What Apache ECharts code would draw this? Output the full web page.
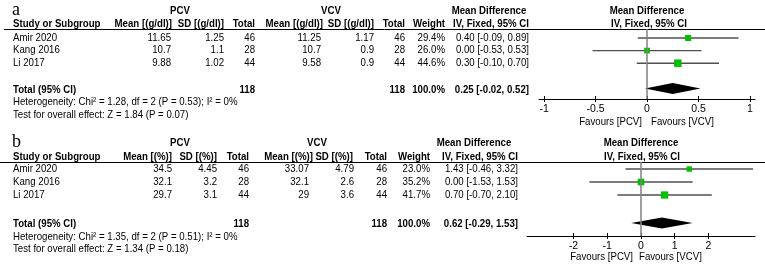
<!DOCTYPE html>
<html>
<head>
<meta charset="utf-8">
<script src="https://cdn.jsdelivr.net/npm/echarts@6/dist/echarts.min.js"></script>
<style>
  html, body { margin: 0; padding: 0; background: #fff; }
  #chart { width: 765px; height: 268px; }
</style>
</head>
<body>
<div id="chart"></div>
<script>
const FONT = '"Liberation Sans", Arial, sans-serif';
const FS = 10.4;
const SX = 0.93; // the source text is a little narrow

const studies = ['Amir 2020', 'Kang 2016', 'Li 2017'];

// a: haemoglobin, g/dl
const hbPcvMean = [11.65, 10.7, 9.88];
const hbPcvSd = [1.25, 1.1, 1.02];
const hbPcvTotal = [46, 28, 44];
const hbVcvMean = [11.25, 10.7, 9.58];
const hbVcvSd = [1.17, 0.9, 0.9];
const hbVcvTotal = [46, 28, 44];
const hbWeight = [29.4, 26.0, 44.6];
const hbMd = [0.40, 0.00, 0.30];
const hbLow = [-0.09, -0.53, -0.10];
const hbHigh = [0.89, 0.53, 0.70];
const hbPooled = [0.25, -0.02, 0.52]; // estimate, low, high
const hbTotals = [118, 118];
const hbHet = 'Heterogeneity: Chi² = 1.28, df = 2 (P = 0.53); I² = 0%';
const hbTest = 'Test for overall effect: Z = 1.84 (P = 0.07)';
const hbTicks = [-1, -0.5, 0, 0.5, 1];

// b: haematocrit, %
const htPcvMean = [34.5, 32.1, 29.7];
const htPcvSd = [4.45, 3.2, 3.1];
const htPcvTotal = [46, 28, 44];
const htVcvMean = [33.07, 32.1, 29];
const htVcvSd = [4.79, 2.6, 3.6];
const htVcvTotal = [46, 28, 44];
const htWeight = [23.0, 35.2, 41.7];
const htMd = [1.43, 0.00, 0.70];
const htLow = [-0.46, -1.53, -0.70];
const htHigh = [3.32, 1.53, 2.10];
const htPooled = [0.62, -0.29, 1.53];
const htTotals = [118, 118];
const htHet = 'Heterogeneity: Chi² = 1.35, df = 2 (P = 0.51); I² = 0%';
const htTest = 'Test for overall effect: Z = 1.34 (P = 0.18)';
const htTicks = [-2, -1, 0, 1, 2];

// page layout (pixels)
const layoutA = {
  label: 'a', labelY: 10, unit: 'g/dl',
  rowY: 38, rowH: 12.6, totalRow: 4,
  grid: { left: 539, top: 29, width: 216, height: 70 },
  xMin: -1.05, xMax: 1.05,
  headY: [11, 24], lineY: 29, lineX: 4,
  groupX: [180, 331, 489, 647],
  headCols: [172, 224, 255, 323, 374, 405, 445, 529, 649],
  valCols: [171, 224, 255, 321, 374, 405, 445, 529],
  footY: [102, 115],
  favY: 122, favX: [642, 651]
};
const layoutB = {
  label: 'b', labelY: 142, unit: '%',
  rowY: 169, rowH: 13, totalRow: 4.15,
  grid: { left: 527, top: 162, width: 228, height: 74 },
  xMin: -3.38, xMax: 3.38,
  headY: [143, 157], lineY: 162, lineX: 0,
  groupX: [180, 317, 474, 641],
  headCols: [172, 217, 249, 313, 353, 387, 430, 518, 642],
  valCols: [172, 217, 249, 309, 354, 387, 430, 518],
  footY: [237, 249],
  favY: 257, favX: [633, 639]
};

const panels = [
  { lay: layoutA, pcvMean: hbPcvMean, pcvSd: hbPcvSd, pcvTotal: hbPcvTotal,
    vcvMean: hbVcvMean, vcvSd: hbVcvSd, vcvTotal: hbVcvTotal, weight: hbWeight,
    md: hbMd, low: hbLow, high: hbHigh, pooled: hbPooled, totals: hbTotals,
    het: hbHet, test: hbTest, ticks: hbTicks },
  { lay: layoutB, pcvMean: htPcvMean, pcvSd: htPcvSd, pcvTotal: htPcvTotal,
    vcvMean: htVcvMean, vcvSd: htVcvSd, vcvTotal: htVcvTotal, weight: htWeight,
    md: htMd, low: htLow, high: htHigh, pooled: htPooled, totals: htTotals,
    het: htHet, test: htTest, ticks: htTicks }
];

function txt(s, x, y, align, bold) {
  return {
    type: 'text', x: x, y: y, scaleX: SX,
    style: {
      text: s, x: 0, y: 0, fill: '#000',
      align: align, textAlign: align,
      verticalAlign: 'middle', textVerticalAlign: 'middle',
      font: (bold ? 'bold ' : '') + FS + 'px ' + FONT
    }
  };
}

function ci(md, lo, hi) {
  return md.toFixed(2) + ' [' + lo.toFixed(2) + ', ' + hi.toFixed(2) + ']';
}

const option = {
  backgroundColor: '#fff',
  animation: false,
  grid: [], xAxis: [], yAxis: [], series: [], graphic: []
};

panels.forEach(function (d, k) {
  const L = d.lay;
  const yMin = (L.grid.top - L.rowY) / L.rowH;
  const yMax = (L.grid.top + L.grid.height - L.rowY) / L.rowH;
  const xi = 2 * k;

  option.grid.push({ left: L.grid.left, top: L.grid.top, width: L.grid.width, height: L.grid.height });

  const baseX = {
    gridIndex: k, type: 'value', min: L.xMin, max: L.xMax, position: 'bottom',
    splitLine: { show: false }
  };
  option.xAxis.push(Object.assign({}, baseX, {
    axisLine: { show: true, onZero: false, lineStyle: { color: '#000', width: 1 } },
    axisTick: { show: true, inside: false, length: 3, customValues: d.ticks, lineStyle: { color: '#000' } },
    axisLabel: { customValues: d.ticks, fontSize: 10.5, fontFamily: FONT, color: '#000', margin: 5,
      formatter: function (v) { return String(v); } }
  }));
  option.xAxis.push(Object.assign({}, baseX, {
    axisLine: { show: false, onZero: false },
    axisTick: { show: true, inside: true, length: 3, customValues: d.ticks, lineStyle: { color: '#000' } },
    axisLabel: { show: false }
  }));
  option.yAxis.push({ gridIndex: k, type: 'value', inverse: true, min: yMin, max: yMax, show: false });

  // line of no effect
  option.series.push({
    type: 'line', xAxisIndex: xi, yAxisIndex: k, symbol: 'none', silent: true,
    data: [[0, yMin], [0, yMax]],
    lineStyle: { color: '#808080', width: 1.5 }
  });

  // study CIs and weighted squares
  option.series.push({
    type: 'custom', xAxisIndex: xi, yAxisIndex: k, silent: true,
    encode: { x: [0, 2, 3], y: 1 },
    data: studies.map(function (s, i) { return [d.md[i], i, d.low[i], d.high[i], d.weight[i]]; }),
    renderItem: function (params, api) {
      const y = api.value(1);
      const a = api.coord([api.value(2), y]);
      const b = api.coord([api.value(3), y]);
      const c = api.coord([api.value(0), y]);
      const s = 1.12 * Math.sqrt(api.value(4));
      return { type: 'group', children: [
        { type: 'line', shape: { x1: a[0], y1: a[1], x2: b[0], y2: b[1] },
          style: { stroke: '#505050', lineWidth: 1.4 } },
        { type: 'rect', shape: { x: c[0] - s / 2, y: c[1] - s / 2, width: s, height: s },
          style: { fill: '#00c000' } }
      ] };
    }
  });

  // pooled diamond
  option.series.push({
    type: 'custom', xAxisIndex: xi, yAxisIndex: k, silent: true,
    encode: { x: [0, 2, 3], y: 1 },
    data: [[d.pooled[0], L.totalRow, d.pooled[1], d.pooled[2]]],
    renderItem: function (params, api) {
      const y = api.value(1);
      const lo = api.coord([api.value(2), y]);
      const hi = api.coord([api.value(3), y]);
      const c = api.coord([api.value(0), y]);
      const h = 5.5;
      return { type: 'polygon',
        shape: { points: [[lo[0], lo[1]], [c[0], c[1] - h], [hi[0], hi[1]], [c[0], c[1] + h]] },
        style: { fill: '#000' } };
    }
  });

  // table rows
  const V = L.valCols;
  option.series.push({
    type: 'custom', xAxisIndex: xi, yAxisIndex: k, silent: true, clip: false,
    encode: { x: 0, y: 1 },
    data: studies.map(function (s, i) { return [0, i]; }),
    renderItem: function (params, api) {
      const i = params.dataIndex;
      const y = api.coord([0, api.value(1)])[1];
      return { type: 'group', children: [
        txt(studies[i], 13, y, 'left'),
        txt(String(d.pcvMean[i]), V[0], y, 'right'),
        txt(String(d.pcvSd[i]), V[1], y, 'right'),
        txt(String(d.pcvTotal[i]), V[2], y, 'right'),
        txt(String(d.vcvMean[i]), V[3], y, 'right'),
        txt(String(d.vcvSd[i]), V[4], y, 'right'),
        txt(String(d.vcvTotal[i]), V[5], y, 'right'),
        txt(d.weight[i].toFixed(1) + '%', V[6], y, 'right'),
        txt(ci(d.md[i], d.low[i], d.high[i]), V[7], y, 'right')
      ] };
    }
  });

  // total row
  option.series.push({
    type: 'custom', xAxisIndex: xi, yAxisIndex: k, silent: true, clip: false,
    encode: { x: 0, y: 1 },
    data: [[0, L.totalRow]],
    renderItem: function (params, api) {
      const y = api.coord([0, api.value(1)])[1] + 1.5;
      return { type: 'group', children: [
        txt('Total (95% CI)', 13, y, 'left', true),
        txt(String(d.totals[0]), V[2], y, 'right', true),
        txt(String(d.totals[1]), V[5], y, 'right', true),
        txt('100.0%', V[6], y, 'right', true),
        txt(ci(d.pooled[0], d.pooled[1], d.pooled[2]), V[7], y, 'right', true)
      ] };
    }
  });

  // headers, rule, footers
  const H = L.headCols, hy = L.headY;
  const unit = '[(' + L.unit + ')]';
  const g = option.graphic;
  g.push({ type: 'text', style: { text: L.label, x: 12, y: L.labelY, fill: '#000',
    textVerticalAlign: 'middle', verticalAlign: 'middle', font: '18px "Liberation Serif", "Times New Roman", serif' } });
  g.push(txt('PCV', L.groupX[0], hy[0], 'center', true));
  g.push(txt('VCV', L.groupX[1], hy[0], 'center', true));
  g.push(txt('Mean Difference', L.groupX[2], hy[0], 'center', true));
  g.push(txt('Mean Difference', L.groupX[3], hy[0], 'center', true));
  g.push(txt('Study or Subgroup', 13, hy[1], 'left', true));
  g.push(txt('Mean ' + unit, H[0], hy[1], 'right', true));
  g.push(txt('SD ' + unit, H[1], hy[1], 'right', true));
  g.push(txt('Total', H[2], hy[1], 'right', true));
  g.push(txt('Mean ' + unit, H[3], hy[1], 'right', true));
  g.push(txt('SD ' + unit, H[4], hy[1], 'right', true));
  g.push(txt('Total', H[5], hy[1], 'right', true));
  g.push(txt('Weight', H[6], hy[1], 'right', true));
  g.push(txt('IV, Fixed, 95% CI', H[7], hy[1], 'right', true));
  g.push(txt('IV, Fixed, 95% CI', H[8], hy[1], 'center', true));
  g.push({ type: 'line', shape: { x1: L.lineX, y1: L.lineY + 0.5, x2: 765, y2: L.lineY + 0.5 },
    style: { stroke: '#000', lineWidth: 1 } });
  g.push(txt(d.het, 13, L.footY[0], 'left'));
  g.push(txt(d.test, 13, L.footY[1], 'left'));
  g.push(txt('Favours [PCV]', L.favX[0], L.favY, 'right'));
  g.push(txt('Favours [VCV]', L.favX[1], L.favY, 'left'));
});

const chart = echarts.init(document.getElementById('chart'), null, { renderer: 'canvas' });
chart.setOption(option);
</script>
</body>
</html>
